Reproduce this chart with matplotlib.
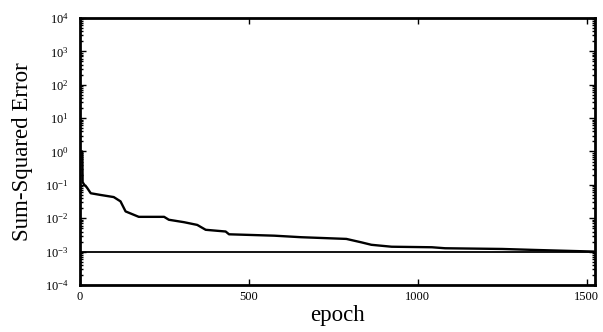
import matplotlib
matplotlib.use("Agg")
import matplotlib.pyplot as plt
from matplotlib.ticker import LogLocator, NullFormatter, FixedLocator

plt.rcParams['font.family'] = ['Liberation Serif', 'DejaVu Serif']
plt.rcParams['mathtext.fontset'] = 'custom'
plt.rcParams['mathtext.rm'] = 'Liberation Serif'
plt.rcParams['mathtext.it'] = 'Liberation Serif:italic'

epochs = [0, 8, 9, 14, 21, 33, 61, 101, 121, 136, 175, 250, 264, 309, 348, 373,
          432, 442, 576, 655, 789, 833, 863, 923, 1042, 1081, 1250, 1348, 1525]
sse = [1.0, 1.0, 0.12, 0.1, 0.085, 0.056, 0.05, 0.043, 0.032, 0.016, 0.011,
       0.011, 0.009, 0.0076, 0.0063, 0.0045, 0.004, 0.0033, 0.003, 0.0027,
       0.0024, 0.0019, 0.0016, 0.0014, 0.00135, 0.00126, 0.0012, 0.00112, 0.001]
goal = 1e-3
x_ticks = [0, 500, 1000, 1500]
x_max = 1525

fig = plt.figure(figsize=(6.03, 3.32), dpi=100)
ax = fig.add_axes([0.132, 0.1416, 0.855, 0.8044])

ax.semilogy(epochs, sse, color='black', lw=1.7)
ax.axhline(goal, color='black', lw=1.3)

ax.set_xlim(0, x_max)
ax.set_ylim(1e-4, 1e4)
ax.xaxis.set_major_locator(FixedLocator(x_ticks))
ax.yaxis.set_major_locator(LogLocator(base=10, numticks=20))
ax.yaxis.set_minor_locator(LogLocator(base=10, subs=range(2, 10), numticks=20))
ax.yaxis.set_minor_formatter(NullFormatter())

ax.tick_params(axis='both', which='both', direction='in', top=True, right=True,
               labelsize=9, width=1.0)
ax.tick_params(axis='both', which='major', length=4)
ax.tick_params(axis='y', which='minor', length=2.5)
ax.tick_params(axis='y', which='major', pad=8)
ax.tick_params(axis='x', which='major', pad=4)

for s in ax.spines.values():
    s.set_linewidth(2.0)

ax.set_xlabel('epoch', fontsize=16.5, labelpad=2)
ax.set_ylabel('Sum-Squared Error', fontsize=16.5)
ax.yaxis.set_label_coords(-0.09, 0.5)

fig.savefig('out.png', dpi=100)
